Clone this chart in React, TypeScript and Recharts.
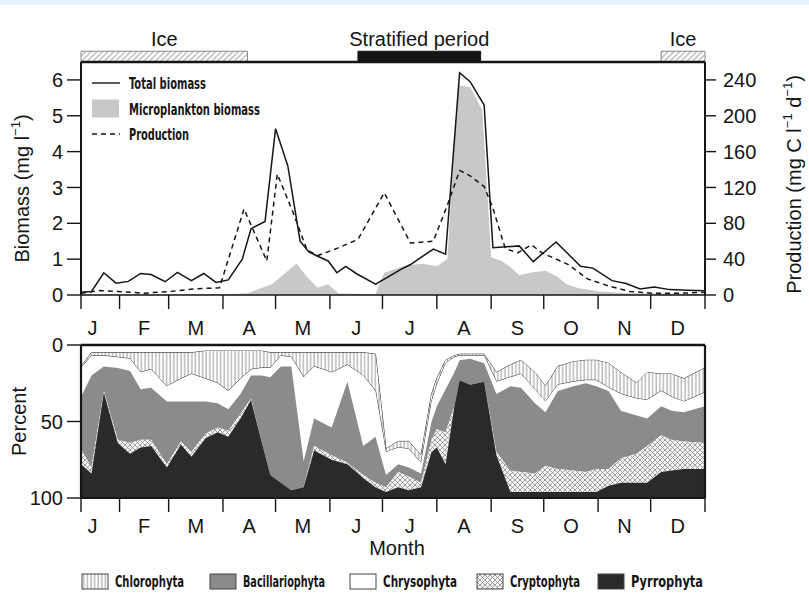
import { ComposedChart, AreaChart, Area, Line, XAxis, YAxis, ReferenceArea, ReferenceLine, Legend } from 'recharts'

const FONT = '"Liberation Sans", Arial, Helvetica, sans-serif'
const NARROW = '"Liberation Sans Narrow", "Arial Narrow", "DejaVu Sans Condensed", "Liberation Sans", sans-serif'
const INK = '#151515'

// x axis is day of year; labels sit mid-month, tick marks on month boundaries
const monthLabels = ['J', 'F', 'M', 'A', 'M', 'J', 'J', 'A', 'S', 'O', 'N', 'D']
const monthMid = [15.5, 45, 74.5, 105, 135.5, 166, 196.5, 227.5, 258, 288.5, 319, 349.5]
const monthEdges = [9, 31, 59, 90, 120, 151, 181, 212, 243, 273, 304, 334, 365]
const monthTicks = [...monthEdges, ...monthMid].sort((a, b) => a - b)

const biomassTicks = [0, 1, 2, 3, 4, 5, 6]
const productionTicks = [0, 40, 80, 120, 160, 200, 240]
const percentTicks = [0, 50, 100]

// [day, mg l-1]
const totalBiomass = [
  [9, 0.08], [15, 0.1], [22, 0.62], [29, 0.33], [36, 0.38], [43, 0.6], [49, 0.57], [57, 0.37],
  [64, 0.63], [72, 0.4], [79, 0.6], [86, 0.35], [93, 0.42], [101, 1.0], [106, 1.85], [114, 2.05],
  [120, 4.64], [127, 3.6], [134, 1.5], [139, 1.2], [144, 1.08], [150, 0.95], [155, 0.62], [160, 0.8],
  [166, 0.6], [177, 0.3], [184, 0.5], [191, 0.7], [197, 0.85], [203, 1.05], [210, 1.28], [217, 1.14],
  [225, 6.2], [231, 5.95], [239, 5.3], [244, 1.32], [259, 1.37], [267, 0.93], [280, 1.48], [294, 0.8],
  [301, 0.75], [312, 0.4], [320, 0.32], [328, 0.17], [336, 0.22], [345, 0.15], [355, 0.13], [365, 0.12],
]

const microplankton = [
  [9, 0.02], [60, 0.02], [95, 0.03], [104, 0.05], [118, 0.3], [132, 0.88], [138, 0.5], [144, 0.2],
  [150, 0.3], [156, 0.04], [177, 0.03], [182, 0.62], [194, 0.82], [204, 0.87], [212, 0.8], [218, 1.0],
  [224, 5.85], [231, 5.8], [238, 5.15], [243, 1.05], [249, 0.95], [254, 0.78], [259, 0.55], [266, 0.63],
  [274, 0.68], [281, 0.5], [286, 0.3], [293, 0.19], [305, 0.1], [320, 0.05], [365, 0.03],
]

// [day, mg C l-1 d-1]
const production = [
  [9, 2], [20, 5], [30, 4], [45, 2], [60, 4], [75, 7], [88, 8], [102, 96], [115, 38], [121, 135],
  [130, 92], [138, 50], [144, 44], [155, 52], [167, 62], [182, 114], [197, 58], [210, 60], [218, 100],
  [225, 139], [231, 133], [239, 121], [244, 97], [251, 52], [258, 47], [266, 56], [272, 47], [287, 34],
  [298, 18], [310, 10], [322, 4], [335, 2], [350, 2], [365, 3],
]

const periods = [
  { name: 'Ice', from: 9, to: 104, kind: 'ice' },
  { name: 'Stratified period', from: 167, to: 237, kind: 'strat' },
  { name: 'Ice', from: 340, to: 365, kind: 'ice' },
]

// percent composition, stacked from the top of the lower panel
const pctDays = [9, 15, 22, 30, 37, 43, 49, 58, 66, 72, 80, 87, 93, 100, 106, 112, 117, 123, 129, 136,
  142, 152, 161, 170, 177, 183, 190, 196, 203, 209, 212, 217, 222, 225, 231, 239, 246, 254, 260, 268,
  274, 281, 290, 297, 303, 310, 317, 326, 332, 340, 346, 353, 365]
const unassigned = [14, 5, 5, 5, 5, 5, 5, 5, 5, 5, 4, 4, 4, 4, 4, 4, 5, 5, 5, 5,
  5, 5, 5, 5, 6, 68, 63, 63, 72, 32, 22, 10, 7, 6, 6, 6, 18, 13, 10, 18,
  27, 14, 11, 10, 10, 12, 18, 25, 18, 19, 19, 22, 15]
const chlorophyta = [1, 2, 2, 3, 4, 13, 11, 22, 17, 14, 18, 21, 26, 18, 12, 11, 10, 2, 3, 16,
  9, 13, 8, 15, 24, 2, 4, 5, 5, 5, 4, 2, 1, 1, 1, 1, 6, 8, 9, 11,
  10, 12, 13, 13, 13, 16, 14, 10, 18, 11, 15, 15, 16]
const chrysophyta = [19, 13, 7, 7, 8, 11, 12, 10, 15, 18, 15, 13, 12, 10, 4, 5, 6, 7, 6, 55,
  34, 36, 11, 46, 30, 15, 11, 12, 7, 13, 14, 17, 10, 3, 2, 5, 8, 6, 9, 9,
  7, 4, 3, 2, 4, 2, 11, 11, 12, 10, 9, 7, 9]
const bacillariophyta = [34, 60, 16, 47, 47, 33, 34, 41, 26, 33, 21, 16, 14, 13, 15, 43, 64, 76, 81, 17,
  18, 18, 53, 19, 30, 8, 5, 6, 6, 12, 15, 28, 22, 13, 17, 12, 38, 55, 55, 46,
  35, 51, 55, 58, 54, 51, 31, 25, 18, 19, 19, 19, 24]
const cryptophyta = [10, 4, 1, 2, 7, 5, 4, 2, 2, 3, 3, 3, 4, 3, 1, 0, 0, 0, 0, 0,
  3, 3, 1, 2, 3, 3, 10, 9, 3, 8, 12, 21, 0, 0, 0, 0, 2, 14, 13, 12,
  17, 15, 14, 13, 15, 11, 16, 19, 24, 24, 20, 18, 17]
const pyrrophyta = [22, 16, 69, 36, 29, 33, 34, 20, 35, 27, 39, 43, 40, 52, 64, 37, 15, 10, 5, 7,
  31, 25, 22, 13, 7, 4, 7, 5, 7, 30, 33, 22, 60, 77, 74, 76, 28, 4, 4, 4,
  4, 4, 4, 4, 4, 8, 10, 10, 10, 17, 18, 19, 19]

const toPts = (arr: number[][]) => arr.map(([day, v]) => ({ day, v }))
const pctRows = pctDays.map((day, i) => ({
  day,
  other: unassigned[i],
  Chlorophyta: chlorophyta[i],
  Chrysophyta: chrysophyta[i],
  Bacillariophyta: bacillariophyta[i],
  Cryptophyta: cryptophyta[i],
  Pyrrophyta: pyrrophyta[i],
}))

const groups = [
  { key: 'Chlorophyta', fill: 'url(#vhatch)', stroke: '#333' },
  { key: 'Chrysophyta', fill: '#ffffff', stroke: 'none' },
  { key: 'Bacillariophyta', fill: '#8b8b8b', stroke: 'none' },
  { key: 'Cryptophyta', fill: 'url(#xhatch)', stroke: 'none' },
  { key: 'Pyrrophyta', fill: '#2a2a2a', stroke: 'none' },
]

const topLegendItems = [
  { name: 'Total biomass', kind: 'line', len: 77 },
  { name: 'Microplankton biomass', kind: 'box', len: 131 },
  { name: 'Production', kind: 'dash', len: 60 },
]

const bottomLegendItems = [
  { key: 'Chlorophyta', box: 82, len: 69 },
  { key: 'Bacillariophyta', box: 210, len: 82 },
  { key: 'Chrysophyta', box: 350, len: 74 },
  { key: 'Cryptophyta', box: 477, len: 70 },
  { key: 'Pyrrophyta', box: 598, len: 72 },
]

function MonthTick(props: any) {
  const { x, y, payload, labelDy } = props
  const i = monthMid.indexOf(payload.value)
  if (i < 0) return <line x1={x} x2={x} y1={y} y2={y + 14} stroke={INK} strokeWidth={1.4} />
  return (
    <text x={x} y={y + labelDy} textAnchor="middle" fontSize={20} fontFamily={FONT} fill={INK}>
      {monthLabels[i]}
    </text>
  )
}

function TopLegend() {
  return (
    <svg width={320} height={72} style={{ overflow: 'visible' }}>
      {topLegendItems.map((it, i) => {
        const cy = 10 + i * 25.5
        return (
          <g key={it.name}>
            {it.kind === 'box'
              ? <rect x={4} y={cy - 9} width={27} height={18} fill="#c8c8c8" />
              : <line x1={4} x2={32} y1={cy} y2={cy} stroke={INK} strokeWidth={1.4}
                  strokeDasharray={it.kind === 'dash' ? '5 4' : undefined} />}
            <text x={41} y={cy + 6} fontSize={16} fontWeight={700} fontFamily={NARROW} fill={INK}
              textLength={it.len} lengthAdjust="spacingAndGlyphs">{it.name}</text>
          </g>
        )
      })}
    </svg>
  )
}

function BottomLegend() {
  return (
    <svg width={809} height={22}>
      {bottomLegendItems.map((it) => {
        const g = groups.find((gr) => gr.key === it.key)!
        return (
          <g key={it.key}>
            <rect x={it.box} y={4} width={26} height={15} fill={g.fill} stroke="#444" strokeWidth={1} />
            <text x={it.box + 33} y={17} fontSize={15} fontWeight={700} fontFamily={NARROW} fill={INK}
              textLength={it.len} lengthAdjust="spacingAndGlyphs">{it.key}</text>
          </g>
        )
      })}
    </svg>
  )
}

function BiomassChart() {
  return (
    <ComposedChart width={809} height={345} margin={{ top: 62, right: 19, bottom: 0, left: 21 }}
      style={{ fontFamily: FONT }}>
      <defs>
        <pattern id="iceHatch" width={4} height={4} patternUnits="userSpaceOnUse" patternTransform="rotate(45)">
          <rect width={4} height={4} fill="#fff" />
          <line x1={1} y1={0} x2={1} y2={4} stroke="#9a9a9a" strokeWidth={1} />
        </pattern>
      </defs>
      <XAxis type="number" dataKey="day" domain={[9, 365]} ticks={monthTicks} interval={0}
        allowDataOverflow tickSize={0} tickMargin={0} tickLine={false} height={50}
        axisLine={{ stroke: INK, strokeWidth: 1.6 }}
        tick={(p: any) => <MonthTick {...p} labelDy={40} />} />
      <YAxis yAxisId="bio" domain={[0, 6.5]} ticks={biomassTicks} allowDataOverflow width={60}
        tickSize={14} tickMargin={4} axisLine={{ stroke: INK, strokeWidth: 2 }}
        tickLine={{ stroke: INK, strokeWidth: 1.4 }}
        tick={{ fontSize: 20, fill: INK, fontFamily: FONT }}
        label={{
          content: (p: any) => {
            const cx = p.viewBox.x + 1
            const cy = p.viewBox.y + p.viewBox.height / 2 + 10
            return (
              <text x={cx} y={cy} transform={`rotate(-90 ${cx} ${cy})`} textAnchor="middle"
                dominantBaseline="central" fontSize={20} fontFamily={FONT} fill={INK}>
                Biomass (mg l<tspan dy={-7} fontSize={13}>−1</tspan><tspan dy={7}>)</tspan>
              </text>
            )
          },
        }} />
      <YAxis yAxisId="prod" orientation="right" domain={[0, 260]} ticks={productionTicks}
        allowDataOverflow width={85} tickSize={11} tickMargin={7}
        axisLine={{ stroke: INK, strokeWidth: 2 }} tickLine={{ stroke: INK, strokeWidth: 1.4 }}
        tick={{ fontSize: 20, fill: INK, fontFamily: FONT }}
        label={{
          content: (p: any) => {
            const cx = p.viewBox.x + 89
            const cy = p.viewBox.y + p.viewBox.height / 2 + 6
            return (
              <text x={cx} y={cy} transform={`rotate(-90 ${cx} ${cy})`} textAnchor="middle"
                dominantBaseline="central" fontSize={20} fontFamily={FONT} fill={INK}>
                Production (mg C l<tspan dy={-7} fontSize={13}>−1</tspan>
                <tspan dy={7}> d</tspan><tspan dy={-7} fontSize={13}>−1</tspan><tspan dy={7}>)</tspan>
              </text>
            )
          },
        }} />
      {periods.map((p, i) => (
        <ReferenceArea key={i} yAxisId="bio" x1={p.from} x2={p.to} y1={6.5} y2={6.8}
          ifOverflow="visible"
          fill={p.kind === 'ice' ? 'url(#iceHatch)' : INK} fillOpacity={1}
          stroke={p.kind === 'ice' ? '#8a8a8a' : INK} strokeWidth={1}
          label={{ value: p.name, position: 'top', offset: 5, fontSize: 20, fill: INK, fontFamily: FONT }} />
      ))}
      <ReferenceLine yAxisId="bio" y={6.5} stroke={INK} strokeWidth={2.4} ifOverflow="visible" />
      <Area yAxisId="bio" data={toPts(microplankton)} dataKey="v" type="linear" fill="#c8c8c8"
        fillOpacity={1} stroke="none" isAnimationActive={false} />
      <Line yAxisId="bio" data={toPts(totalBiomass)} dataKey="v" type="linear" stroke={INK}
        strokeWidth={1.5} dot={false} isAnimationActive={false} />
      <Line yAxisId="prod" data={toPts(production)} dataKey="v" type="linear" stroke={INK}
        strokeWidth={1.5} strokeDasharray="5 4" dot={false} isAnimationActive={false} />
      <Legend layout="horizontal" verticalAlign="middle" align="center"
        wrapperStyle={{ top: 73, left: 88, width: 320, height: 72 }}
        content={() => <TopLegend />} />
    </ComposedChart>
  )
}

function PercentChart() {
  return (
    <AreaChart width={809} height={293} data={pctRows} margin={{ top: 45, right: 19, bottom: 0, left: 21 }}
      style={{ fontFamily: FONT }}>
      <defs>
        <pattern id="vhatch" width={3.6} height={4} patternUnits="userSpaceOnUse">
          <rect width={3.6} height={4} fill="#fff" />
          <line x1={1} y1={0} x2={1} y2={4} stroke="#7a7a7a" strokeWidth={0.8} />
        </pattern>
        <pattern id="xhatch" width={5} height={5} patternUnits="userSpaceOnUse">
          <rect width={5} height={5} fill="#f4f4f4" />
          <path d="M0,0 L5,5 M0,5 L5,0" stroke="#8a8a8a" strokeWidth={0.8} />
        </pattern>
      </defs>
      <XAxis type="number" dataKey="day" domain={[9, 365]} ticks={monthTicks} interval={0}
        allowDataOverflow tickSize={0} tickMargin={0} tickLine={false} height={95}
        axisLine={{ stroke: INK, strokeWidth: 2.2 }}
        tick={(p: any) => <MonthTick {...p} labelDy={35} />}
        label={{
          content: (p: any) => (
            <text x={p.viewBox.x + p.viewBox.width / 2 + 4} y={p.viewBox.y + 57} textAnchor="middle"
              fontSize={20} fontFamily={FONT} fill={INK}>Month</text>
          ),
        }} />
      <YAxis yAxisId="pct" reversed domain={[0, 100]} ticks={percentTicks} width={60}
        tickSize={14} tickMargin={4} axisLine={{ stroke: INK, strokeWidth: 2.2 }}
        tickLine={{ stroke: INK, strokeWidth: 1.4 }}
        tick={{ fontSize: 20, fill: INK, fontFamily: FONT }}
        label={{
          content: (p: any) => {
            const cx = p.viewBox.x - 2
            const cy = p.viewBox.y + p.viewBox.height / 2
            return (
              <text x={cx} y={cy} transform={`rotate(-90 ${cx} ${cy})`} textAnchor="middle"
                dominantBaseline="central" fontSize={20} fontFamily={FONT} fill={INK}>Percent</text>
            )
          },
        }} />
      <YAxis yAxisId="frame" orientation="right" reversed domain={[0, 100]} width={85} tick={false}
        tickLine={false} axisLine={{ stroke: INK, strokeWidth: 2.2 }} />
      <Area yAxisId="pct" stackId="p" dataKey="other" type="linear" fill="none" stroke="#333"
        strokeWidth={1} isAnimationActive={false} />
      {groups.map((g) => (
        <Area key={g.key} yAxisId="pct" stackId="p" dataKey={g.key} type="linear" fill={g.fill}
          fillOpacity={1} stroke={g.stroke} strokeWidth={1} isAnimationActive={false} />
      ))}
      <ReferenceLine yAxisId="pct" y={0} stroke={INK} strokeWidth={2.4} />
      <Legend layout="horizontal" verticalAlign="middle" align="center"
        wrapperStyle={{ top: 270, left: 0, width: 809, height: 22 }}
        content={() => <BottomLegend />} />
    </AreaChart>
  )
}

export default function App() {
  return (
    <div style={{ position: 'absolute', left: 0, top: 0, width: 809, height: 593, background: '#fff', overflow: 'hidden' }}>
      <div style={{ position: 'absolute', left: 0, top: 0, width: 809, height: 5, background: '#e3f2fc' }} />
      <div style={{ position: 'absolute', left: 0, top: 0 }}>
        <BiomassChart />
      </div>
      <div style={{ position: 'absolute', left: 0, top: 300 }}>
        <PercentChart />
      </div>
    </div>
  )
}
